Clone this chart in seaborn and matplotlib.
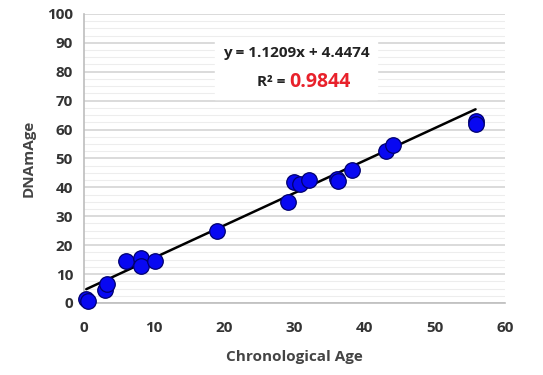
import numpy as np
import pandas as pd
import matplotlib
matplotlib.use("Agg")
import matplotlib.pyplot as plt
import seaborn as sns

# values
chrono_age = [0.3, 0.5, 3.0, 3.3, 6.0, 8.1, 8.1, 10.1, 19.0, 29.0,
              29.9, 30.8, 32.0, 36.0, 36.2, 38.2, 43.1, 44.1, 55.8, 55.8]
dnam_age = [1.5, 0.8, 4.4, 6.4, 14.4, 15.5, 12.8, 14.4, 25.0, 35.1,
            42.0, 41.0, 42.7, 43.0, 42.3, 46.0, 52.5, 54.7, 63.0, 62.0]
slope = 1.1209
intercept = 4.4474
r_squared = "0.9844"

df = pd.DataFrame({"Chronological Age": chrono_age, "DNAmAge": dnam_age})

sns.set_style("white")
plt.rcParams["font.family"] = ["Open Sans", "DejaVu Sans"]

fig, ax = plt.subplots(figsize=(5.43, 3.75), dpi=100)
fig.subplots_adjust(left=0.155, right=0.93, bottom=0.192, top=0.963)

# grid
ax.set_yticks(np.arange(0, 101, 10))
ax.set_yticks(np.arange(0, 101, 2.5), minor=True)
ax.grid(axis="y", which="major", color="#d4d4d4", linewidth=1.2)
ax.grid(axis="y", which="minor", color="#ededed", linewidth=0.8)
ax.set_axisbelow(True)

# trend line
fit_x = np.array([min(chrono_age), max(chrono_age)])
fit = pd.DataFrame({"x": fit_x, "y": slope * fit_x + intercept})
sns.lineplot(data=fit, x="x", y="y", ax=ax, color="black", linewidth=1.8, zorder=2)

sns.scatterplot(data=df, x="Chronological Age", y="DNAmAge", ax=ax, s=125,
                color="#0808f2", edgecolor="#00006e", linewidth=0.9, zorder=3,
                clip_on=False)

ax.set_xlim(0, 60)
ax.set_ylim(0, 100)
ax.set_xticks(np.arange(0, 61, 10))

for side in ["top", "right"]:
    ax.spines[side].set_visible(False)
for side in ["left", "bottom"]:
    ax.spines[side].set_color("#bdbdbd")
    ax.spines[side].set_linewidth(1.2)

ax.tick_params(axis="x", which="major", length=4, color="#bdbdbd", labelsize=11, pad=9)
ax.tick_params(axis="y", which="both", length=0, labelsize=11, pad=8)
for lab in ax.get_xticklabels() + ax.get_yticklabels():
    lab.set_fontweight("bold")
    lab.set_color("#333333")

ax.set_xlabel("Chronological Age", fontsize=11, fontweight="bold", color="#444444", labelpad=11)
ax.set_ylabel("DNAmAge", fontsize=11, fontweight="bold", color="#444444", labelpad=8)

# equation box
ax.fill_between([18.6, 41.8], 70.5, 90.5, color="white", zorder=1.5)
ax.text(30.3, 86.5, f"y = {slope}x + {intercept}", ha="center", va="center",
        fontsize=11, fontweight="bold", color="#222222", zorder=4)
ax.text(29.2, 76.5, "R² = ", ha="right", va="center",
        fontsize=11, fontweight="bold", color="#222222", zorder=4)
ax.text(29.2, 76.5, r_squared, ha="left", va="center",
        fontsize=14, fontweight="bold", color="#e8212b", zorder=4)

fig.savefig("out.png", dpi=100)
